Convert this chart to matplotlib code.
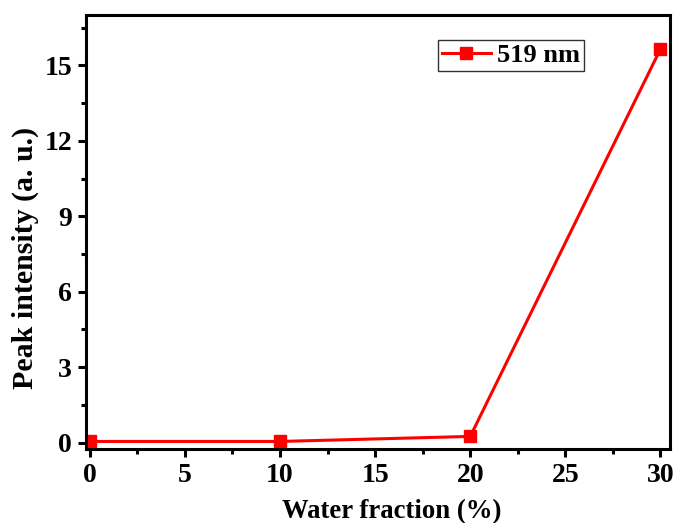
import matplotlib
matplotlib.use('Agg')
import matplotlib.pyplot as plt
from matplotlib.ticker import MultipleLocator

water_fraction = [0, 10, 20, 30]
peak_intensity = [0.05, 0.05, 0.25, 15.65]

plt.rcParams['font.family'] = ['Liberation Serif', 'DejaVu Serif']
plt.rcParams['font.weight'] = 'bold'

fig = plt.figure(figsize=(6.77, 5.23), dpi=100)
ax = fig.add_axes([86 / 677, 1 - 449 / 523, (670 - 86) / 677, (449 - 15) / 523])

ax.plot(water_fraction, peak_intensity, color='red', linewidth=2.2, marker='s',
        markersize=8.5, label='519 nm')

ax.set_xlim(-0.2, 30.5)
ax.set_ylim(-0.25, 17.0)
ax.xaxis.set_major_locator(MultipleLocator(5))
ax.xaxis.set_minor_locator(MultipleLocator(2.5))
ax.yaxis.set_major_locator(MultipleLocator(3))
ax.yaxis.set_minor_locator(MultipleLocator(1.5))

ax.tick_params(which='major', direction='out', length=6, width=2.2, labelsize=20, pad=4)
ax.tick_params(which='minor', direction='out', length=3.5, width=2.2)
for s in ax.spines.values():
    s.set_linewidth(2.2)

for lbl in ax.get_xticklabels() + ax.get_yticklabels():
    lbl.set_fontweight('bold')

ax.set_xlabel('Water fraction (%)', fontsize=19.3, fontweight='bold', labelpad=8)
ax.set_ylabel('Peak intensity (a. u.)', fontsize=21.5, fontweight='bold', labelpad=4)
ax.xaxis.label.set_x(0.524)
ax.yaxis.label.set_y(0.44)

leg = ax.legend(loc='upper right', bbox_to_anchor=(0.853, 0.943), fontsize=19,
                frameon=True, fancybox=False, edgecolor='black', handlelength=1.85,
                handletextpad=0.25, borderpad=0.15, borderaxespad=0)
leg.get_frame().set_linewidth(1)
for t in leg.get_texts():
    t.set_fontweight('bold')

fig.savefig('out.png', dpi=100)
